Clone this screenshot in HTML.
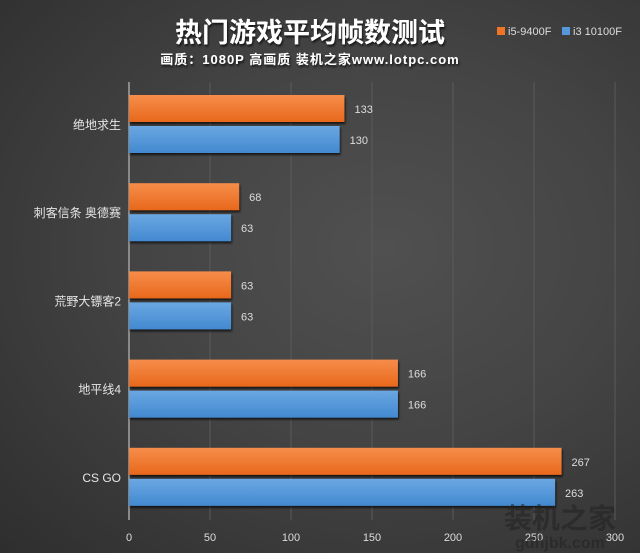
<!DOCTYPE html>
<html><head><meta charset="utf-8"><style>
html,body{margin:0;padding:0}
body{width:640px;height:553px;overflow:hidden;background:radial-gradient(ellipse at 60% 45%,#505050 0%,#444 45%,#2e2e2e 100%);font-family:"Liberation Sans","Noto Sans CJK SC",sans-serif}
</style></head><body>
<svg id="c" width="640" height="553" xmlns="http://www.w3.org/2000/svg" style="display:block">
<defs>
<linearGradient id="og" x1="0" y1="0" x2="0" y2="1"><stop offset="0" stop-color="#f68d4a"/><stop offset="1" stop-color="#e8681c"/></linearGradient>
<linearGradient id="bg" x1="0" y1="0" x2="0" y2="1"><stop offset="0" stop-color="#6aa7e2"/><stop offset="1" stop-color="#4389d0"/></linearGradient>
<filter id="sh" x="-5%" y="-20%" width="110%" height="150%"><feDropShadow dx="1" dy="2" stdDeviation="1" flood-color="#000" flood-opacity="0.7"/></filter>
</defs>
<text x="310" y="42" text-anchor="middle" font-size="27" font-weight="bold" fill="#fff" filter="url(#sh)">热门游戏平均帧数测试</text>
<text x="310" y="64" text-anchor="middle" font-size="13" font-weight="bold" fill="#fff" letter-spacing="1" filter="url(#sh)">画质：1080P 高画质 装机之家www.lotpc.com</text>
<g>
<rect x="497" y="27" width="8" height="8" fill="#ee7428"/>
<text x="508" y="35" font-size="11" fill="#ddd">i5-9400F</text>
<rect x="562" y="27" width="8" height="8" fill="#5497da"/>
<text x="573" y="35" font-size="11" fill="#ddd">i3 10100F</text>
</g>
<g id="plot"></g>
<text x="560" y="528" text-anchor="middle" font-size="28" font-weight="bold" fill="#222" opacity="0.55">装机之家</text>
<text x="560" y="548" text-anchor="middle" font-size="16" font-weight="bold" fill="#222" opacity="0.55">gdhjbk.com</text>
</svg>
<script>
const categories=["绝地求生","刺客信条 奥德赛","荒野大镖客2","地平线4","CS GO"];
const i5Values=[133,68,63,166,267];
const i3Values=[130,63,63,166,263];
const tickLabels=[0,50,100,150,200,250,300];
const NS="http://www.w3.org/2000/svg";
const plotG=document.getElementById('plot');
const ax0=129,ax1=615,plotTop=82,plotBottom=520;
function xs(v){return ax0+(v-0)/(300-0)*(ax1-ax0);}
function gy(i){return 124+i*88.2;}
function mk(t,a){const e=document.createElementNS(NS,t);for(const k in a)e.setAttribute(k,a[k]);plotG.appendChild(e);return e;}
tickLabels.forEach(function(t){
 const l=mk('line',{x1:xs(t),x2:xs(t),y1:plotTop,y2:plotBottom,stroke:t===0?'#8a8a8a':'#5a5a5a','stroke-width':t===0?2:1});
 
 
 const tx=mk('text',{x:xs(t),y:541,'text-anchor':'middle','font-size':11,fill:'#ddd'});
 tx.textContent=t;
 
 
});
categories.forEach(function(c,i){
 const cy=gy(i);
 const lb=mk('text',{x:121,y:cy+5,'text-anchor':'end','font-size':12,fill:'#e6e6e6'});
 lb.textContent=c;
 
 
 [[i5Values[i],'url(#og)',cy-29,'i5'],[i3Values[i],'url(#bg)',cy+2,'i3']].forEach(function(s){
  const r=mk('rect',{x:ax0,y:s[2],width:xs(s[0])-ax0,height:27,fill:s[1],filter:'url(#sh)'});
  
  
  const v=mk('text',{x:xs(s[0])+10,y:s[2]+18,'font-size':11,fill:'#ddd'});
  v.textContent=s[0];
  
  
 });
});
</script>
</body></html>
